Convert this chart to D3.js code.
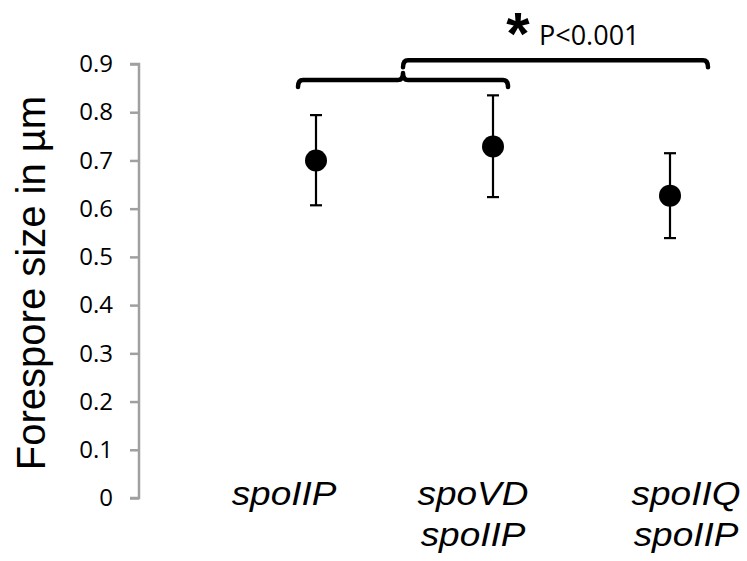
<!DOCTYPE html>
<html>
<head>
<meta charset="utf-8">
<script src="https://cdn.jsdelivr.net/npm/d3@7"></script>
<style>
  html, body { margin: 0; padding: 0; background: #fff; }
  svg { display: block; }
  .ytick text { font-family: 'Open Sans', sans-serif; font-size: 24px; }
</style>
</head>
<body>
<svg id="chart" width="747" height="561"></svg>
<script>
// Strains (first line / second line of each label)
const strains = ["spoIIP", "spoVD spoIIP", "spoIIQ spoIIP"];
const labelLines = [["spoIIP"], ["spoVD", "spoIIP"], ["spoIIQ", "spoIIP"]];
// Mean forespore size (µm) and error bar limits
const means = [0.700, 0.729, 0.627];
const upper = [0.794, 0.835, 0.715];
const lower = [0.607, 0.624, 0.539];
// Y axis ticks
const yTicks = [0, 0.1, 0.2, 0.3, 0.4, 0.5, 0.6, 0.7, 0.8, 0.9];
// Significance annotation
const sigStar = "*";
const sigText = "P<0.001";

const svg = d3.select("#chart");

const y = d3.scaleLinear().domain([0, 0.9]).range([498, 64]);
const x = d3.scalePoint().domain(strains).range([316, 670]);

// Y axis
const yAxis = d3.axisLeft(y).tickValues(yTicks).tickSize(9).tickPadding(17)
  .tickFormat(d => d === 0 ? "0" : d3.format(".1f")(d));
const gy = svg.append("g").attr("class", "ytick")
  .attr("transform", "translate(139,0)").call(yAxis);
gy.attr("font-size", 24).attr("font-family", "'Open Sans', sans-serif");
gy.select(".domain").attr("stroke", "#a0a0a0").attr("stroke-width", 2.5)
  .attr("d", `M-9,${y(0.9)}H0V${y(0)}H-9`);
gy.selectAll(".tick line").attr("stroke", "#a0a0a0").attr("stroke-width", 2.5);
gy.selectAll(".tick text").attr("font-size", 24).attr("fill", "#000");

// Y axis title
svg.append("text")
  .attr("transform", `translate(45,${(y(0) + y(0.9)) / 2 + 2}) rotate(-90)`)
  .attr("text-anchor", "middle")
  .style("font-family", "'Liberation Sans', Arial, sans-serif")
  .style("font-size", "40px")
  .attr("fill", "#000")
  .text("Forespore size in µm");

// Error bars
const eb = svg.append("g").attr("stroke", "#000").attr("stroke-width", 2.2);
strains.forEach((s, i) => {
  eb.append("line").attr("x1", x(s)).attr("x2", x(s)).attr("y1", y(upper[i])).attr("y2", y(lower[i]));
  eb.append("line").attr("x1", x(s) - 6).attr("x2", x(s) + 6).attr("y1", y(upper[i])).attr("y2", y(upper[i]));
  eb.append("line").attr("x1", x(s) - 6).attr("x2", x(s) + 6).attr("y1", y(lower[i])).attr("y2", y(lower[i]));
});

// Mean markers
svg.append("g").selectAll("circle").data(strains).join("circle")
  .attr("cx", d => x(d)).attr("cy", (d, i) => y(means[i])).attr("r", 11)
  .attr("fill", "#000");

// Category labels (placed below the plot, two lines where needed)
const labelShift = [-32, -20, 16];
strains.forEach((s, i) => {
  labelLines[i].forEach((ln, j) => {
    svg.append("text")
      .attr("transform", `translate(${x(s) + labelShift[i]},${505 + j * 41}) scale(1.12,1)`)
      .attr("text-anchor", "middle")
      .style("font-family", "'Liberation Sans', Arial, sans-serif")
      .style("font-style", "italic")
      .style("font-size", "33px")
      .attr("fill", "#000")
      .text(ln);
  });
});

// Comparison braces
function brace(x1, x2, yy, mid) {
  const h = 7, r = 5;
  let p = `M${x1},${yy + h}Q${x1},${yy} ${x1 + r},${yy}`;
  if (mid != null) {
    p += `L${mid - r},${yy}Q${mid},${yy} ${mid},${yy - h}Q${mid},${yy} ${mid + r},${yy}`;
  }
  p += `L${x2 - r},${yy}Q${x2},${yy} ${x2},${yy + h}`;
  return p;
}
const b1x1 = x(strains[0]) - 18, b1x2 = x(strains[1]) + 15;
const b1mid = (b1x1 + b1x2) / 2;
const braces = svg.append("g").attr("fill", "none").attr("stroke", "#000")
  .attr("stroke-width", 4.5).attr("stroke-linecap", "round").attr("stroke-linejoin", "round");
braces.append("path").attr("d", brace(b1x1, b1x2, y(0.867), b1mid));
braces.append("path").attr("d", brace(b1mid, x(strains[2]) + 38, y(0.908), null));

// Significance text
svg.append("text")
  .attr("x", 518).attr("y", 54)
  .attr("text-anchor", "middle")
  .style("font-family", "'Liberation Sans', Arial, sans-serif")
  .style("font-size", "60px")
  .style("font-weight", "bold")
  .attr("fill", "#000")
  .text(sigStar);
svg.append("text")
  .attr("x", 539).attr("y", 45)
  .style("font-family", "'Open Sans', sans-serif")
  .style("font-size", "27px")
  .attr("fill", "#000")
  .text(sigText);
</script>
</body>
</html>
